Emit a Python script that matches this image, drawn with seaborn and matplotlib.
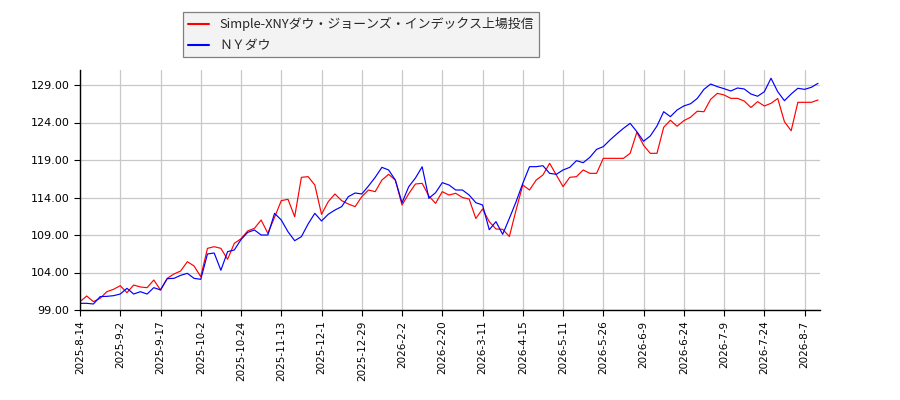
import matplotlib
matplotlib.use("Agg")
import matplotlib.pyplot as plt
import numpy as np
import pandas as pd
import seaborn as sns

# ---- data ----
tick_labels = ['2025-8-14', '2025-9-2', '2025-9-17', '2025-10-2', '2025-10-24', '2025-11-13',
               '2025-12-1', '2025-12-29', '2026-2-2', '2026-2-20', '2026-3-11', '2026-4-15',
               '2026-5-11', '2026-5-26', '2026-6-9', '2026-6-24', '2026-7-9', '2026-7-24', '2026-8-7']
tick_step = 6

series_names = ['Simple-XNYダウ・ジョーンズ・インデックス上場投信', 'ＮＹダウ']
series_colors = ['#ff0000', '#0000ff']

fund = [100.11, 100.87, 100.11, 100.56, 101.44, 101.76, 102.24, 101.31, 102.33, 102.07,
        101.98, 103.0, 101.67, 103.22, 103.8, 104.2, 105.44, 104.87, 103.44, 107.22,
        107.44, 107.22, 105.76, 107.89, 108.5, 109.55, 109.89, 111.0, 109.22, 111.36,
        113.58, 113.76, 111.44, 116.69, 116.78, 115.67, 111.76, 113.44, 114.47, 113.58,
        113.13, 112.78, 114.11, 115.0, 114.78, 116.33, 117.09, 116.33, 113.0, 114.5,
        115.8, 115.89, 114.2, 113.22, 114.78, 114.33, 114.56, 114.0, 113.8, 111.2,
        112.47, 110.78, 109.8, 109.76, 108.8, 112.33, 115.67, 115.0, 116.33, 117.0,
        118.56, 117.0, 115.45, 116.69, 116.78, 117.67, 117.22, 117.22, 119.22, 119.22,
        119.22, 119.22, 119.89, 122.7, 120.96, 119.89, 119.89, 123.36, 124.3, 123.5,
        124.24, 124.7, 125.5, 125.44, 127.09, 127.89, 127.67, 127.22, 127.22, 126.87,
        126.0, 126.78, 126.2, 126.56, 127.2, 124.1, 122.9, 126.69, 126.69, 126.69,
        127.0]

nydow = [99.89, 99.89, 99.8, 100.78, 100.82, 100.91, 101.13, 101.89, 101.13, 101.44,
         101.13, 101.98, 101.67, 103.18, 103.22, 103.62, 103.89, 103.22, 103.09, 106.47,
         106.6, 104.3, 106.78, 107.0, 108.4, 109.35, 109.67, 109.0, 109.0, 111.89,
         111.0, 109.44, 108.24, 108.78, 110.47, 111.89, 110.87, 111.76, 112.33, 112.78,
         114.11, 114.6, 114.47, 115.53, 116.69, 118.02, 117.67, 116.33, 113.3, 115.44,
         116.6, 118.1, 113.89, 114.64, 115.98, 115.67, 115.0, 115.0, 114.33, 113.31,
         113.0, 109.7, 110.78, 109.09, 111.22, 113.44, 115.89, 118.11, 118.11, 118.24,
         117.22, 117.09, 117.67, 118.02, 118.91, 118.64, 119.36, 120.42, 120.78, 121.67,
         122.47, 123.22, 123.89, 122.78, 121.5, 122.2, 123.53, 125.44, 124.78, 125.67,
         126.2, 126.5, 127.2, 128.42, 129.13, 128.78, 128.51, 128.2, 128.6, 128.47,
         127.8, 127.5, 128.1, 129.9, 128.1, 126.91, 127.8, 128.56, 128.42, 128.69,
         129.22]

y_ticks = [99, 104, 109, 114, 119, 124, 129]

# ---- build table ----
n = len(fund)
df = pd.DataFrame({
    'idx': list(range(n)) * 2,
    'value': fund + nydow,
    'series': [series_names[0]] * n + [series_names[1]] * n,
})

sns.set_style('white')
plt.rcParams['font.family'] = ['Noto Sans CJK JP', 'DejaVu Sans']

fig = plt.figure(figsize=(9, 4), dpi=100)
ax = fig.add_axes([80 / 900, 90 / 400, 740 / 900, 240 / 400])

sns.lineplot(data=df, x='idx', y='value', hue='series',
             palette=dict(zip(series_names, series_colors)),
             linewidth=0.85, ax=ax)

handles, labels = ax.get_legend_handles_labels()
ax.get_legend().remove()

ax.set_xlim(0, n - 0.7)
ax.set_ylim(99, 131)
ax.set_xticks(list(range(0, tick_step * len(tick_labels), tick_step)))
ax.set_xticklabels(tick_labels, rotation=90, fontsize=7.5, family='DejaVu Sans')
ax.set_yticks(y_ticks)
ax.set_yticklabels([f'{v:.2f}' for v in y_ticks], fontsize=8, family='DejaVu Sans')
ax.set_xlabel('')
ax.set_ylabel('')

ax.grid(True, color='#c8c8c8', linewidth=0.9)
ax.set_axisbelow(True)
for s in ['top', 'right']:
    ax.spines[s].set_visible(False)
for s in ['left', 'bottom']:
    ax.spines[s].set_color('black')
    ax.spines[s].set_linewidth(1.0)
ax.tick_params(axis='both', direction='out', length=4, width=0.8, color='black',
               colors='black', bottom=True, left=True)

leg = fig.legend(handles, labels, loc='upper left',
                 bbox_to_anchor=(183 / 900, 1 - 12 / 400),
                 frameon=True, fancybox=False, facecolor='#f3f3f3',
                 edgecolor='#808080', framealpha=1, fontsize=9.3,
                 handlelength=1.6, borderaxespad=0, labelspacing=0.6)
leg.get_frame().set_linewidth(0.9)
for line in leg.get_lines():
    line.set_linewidth(1.5)

fig.savefig('out.png', dpi=100)
